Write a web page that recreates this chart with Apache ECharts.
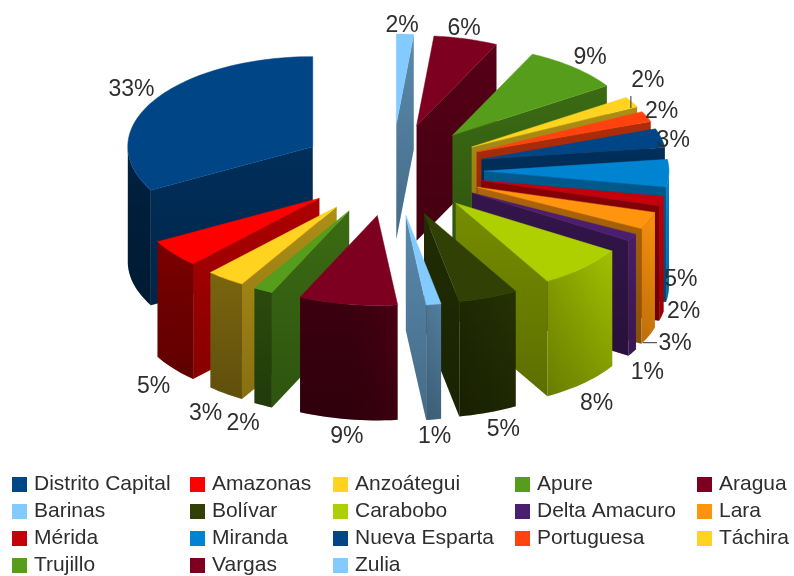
<!DOCTYPE html>
<html>
<head>
<meta charset="utf-8">
<style>html,body{margin:0;padding:0;background:#fff}#c{width:794px;height:576px}</style>
<script src="https://cdn.jsdelivr.net/npm/echarts@6/dist/echarts.min.js"></script>
</head>
<body>
<div id="c"></div>
<script>
const states = ['Distrito Capital','Amazonas','Anzoátegui','Apure','Aragua','Barinas','Bolívar','Carabobo','Delta Amacuro','Lara','Mérida','Miranda','Nueva Esparta','Portuguesa','Táchira','Trujillo','Vargas','Zulia'];
const shares = [33,5,3.4,1.7,8.6,1.3,5.2,7.8,1.3,3.1,1.7,4.9,3.4,1.9,1.9,8.6,5.6,1.5];
const palette = ['#004586','#ff0000','#ffd320','#579d1c','#7e0021','#83caff','#314004','#aecf00','#4b1f6f','#ff950e','#c5000b','#0084d1','#004586','#ff420e','#ffd320','#579d1c','#7e0021','#83caff'];

// Label placement relative to each slice's outer rim
const labelShift = [[-22,-11],[-20,18],[-20,20],[-20,18],[-1,17],[1,17],[15,17],[13,20],[15,20],[26,8],[22,-4],[12,-9],[12,3],[15,-5],[16,-21],[16,-10],[-2,-10],[-3,-8]];
const leaders = {9:[-32,-1,-18,-1],14:[-17,15,-17,27]};

const view = {cx:392, cy:170, rx:185, ry:90, depth:115, ex:92, ey:46};
const total = shares.reduce((a,b)=>a+b,0);
let run = 0;
const wedges = shares.map((v,i)=>{
  const t0 = run/total*Math.PI*2; run += v;
  const t1 = run/total*Math.PI*2; const m = (t0+t1)/2;
  return {i,t0,t1,m,ax:view.cx-Math.sin(m)*view.ex,ay:view.cy-Math.cos(m)*view.ey,dirY:-Math.cos(m)};
});
const rank = {};
wedges.slice().sort((a,b)=>a.dirY-b.dirY).forEach((w,k)=>{rank[w.i]=k+1;});

function shade(hex,b){
  const n=parseInt(hex.slice(1),16);
  const f=c=>Math.max(0,Math.min(255,Math.round(c*b)));
  return `rgb(${f(n>>16&255)},${f(n>>8&255)},${f(n&255)})`;
}
function rimLight(t){
  const nx=-Math.sin(t), ny=-Math.cos(t);
  return 0.48+0.5*Math.max(0,nx*1+ny*0.1);
}
const dimDown={type:'linear',x:0,y:0,x2:0,y2:1,colorStops:[{offset:0,color:'rgba(0,0,0,0)'},{offset:1,color:'rgba(0,0,0,0.22)'}]};
function renderWedge(i){
  return function(){
    const w=wedges[i], col=palette[i], d=view.depth, z=rank[i]*100;
    const pt=t=>[w.ax-Math.sin(t)*view.rx, w.ay-Math.cos(t)*view.ry];
    const N=Math.max(2,Math.ceil((w.t1-w.t0)/(Math.PI/90)));
    const arc=[]; for(let k=0;k<=N;k++) arc.push(pt(w.t0+(w.t1-w.t0)*k/N));
    const apex=[w.ax,w.ay], kids=[];
    const wallPts=(pts)=>pts.concat(pts.slice().reverse().map(p=>[p[0],p[1]+d]));
    const face=(pts,fill,zz)=>{
      kids.push({type:'polygon',z2:zz,shape:{points:wallPts(pts)},style:{fill:fill,stroke:null}});
      kids.push({type:'polygon',z2:zz+1,shape:{points:wallPts(pts)},style:{fill:dimDown,stroke:null}});
    };
    if(arc[0][0]>apex[0]) face([apex,arc[0]],shade(col,0.68),z+1);
    if(apex[0]>arc[N][0]) face([arc[N],apex],shade(col,0.68),z+1);
    const vis=[], ts=[];
    for(let k=0;k<=N;k++){
      const t=w.t0+(w.t1-w.t0)*k/N;
      if(Math.cos(t)<0){vis.push(arc[k]);ts.push(t);}
    }
    if(vis.length>1){
      const x0=Math.min(...vis.map(p=>p[0])), x1=Math.max(...vis.map(p=>p[0]));
      const stops=vis.map((p,k)=>({p,k})).sort((a,b)=>a.p[0]-b.p[0]).map(o=>({offset:(o.p[0]-x0)/(x1-x0),color:shade(col,rimLight(ts[o.k]))}));
      face(vis,{type:'linear',x:0,y:0,x2:1,y2:0,colorStops:stops},z+3);
    }
    kids.push({type:'polygon',z2:z+6,shape:{points:[apex].concat(arc)},style:{fill:col,stroke:col,lineWidth:0.5}});
    const rim=pt(w.m); const bottom=w.dirY>-0.1;
    const lx=rim[0]+labelShift[i][0], ly=rim[1]+(bottom?d:0)+labelShift[i][1];
    kids.push({type:'text',z2:5000,style:{text:Math.round(shares[i])+'%',x:lx,y:ly,fill:'#2e2e2e',font:'23px "Liberation Sans"',align:'center',verticalAlign:'middle'}});
    if(leaders[i]){
      const l=leaders[i];
      kids.push({type:'line',z2:4999,shape:{x1:lx+l[0],y1:ly+l[1],x2:lx+l[2],y2:ly+l[3]},style:{stroke:'#333',lineWidth:1}});
    }
    return {type:'group',children:kids};
  };
}
const columns=[12,190,333,515,697];
const chart=echarts.init(document.getElementById('c'),null,{renderer:'canvas'});
chart.setOption({
  animation:false,
  backgroundColor:'#fff',
  color:palette,
  legend:columns.map((x,c)=>({
    orient:'vertical',left:x,top:474,padding:0,itemWidth:15,itemHeight:15,itemGap:6,icon:'rect',
    selectedMode:false,
    textStyle:{fontFamily:'Liberation Sans',fontSize:21,lineHeight:21,color:'#2e2e2e',padding:[0,0,0,2]},
    data:states.filter((s,i)=>i%5===c)
  })),
  series:states.map((s,i)=>({
    type:'custom',name:s,coordinateSystem:'none',data:[shares[i]],
    itemStyle:{color:palette[i]},renderItem:renderWedge(i),silent:true
  }))
});
</script>
</body>
</html>
